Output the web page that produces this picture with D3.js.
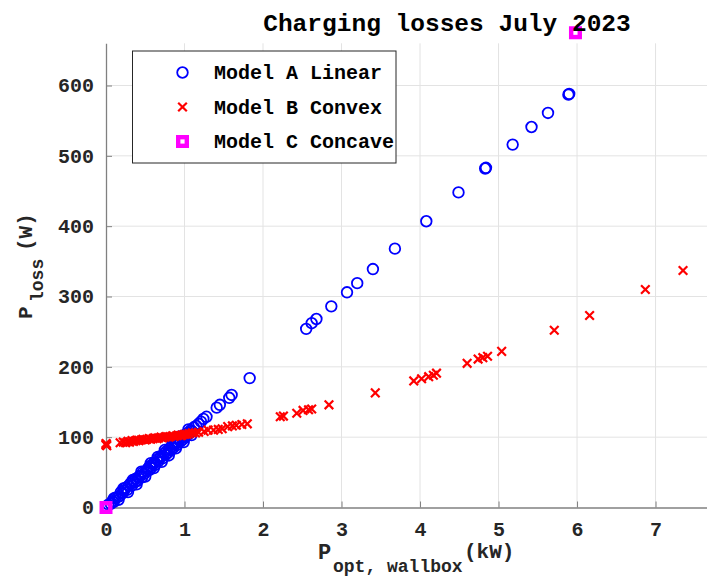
<!DOCTYPE html>
<html><head><meta charset="utf-8">
<script src="https://cdn.jsdelivr.net/npm/d3@7"></script>
<style>body{margin:0;background:#fff}svg{display:block}</style>
</head><body><svg id="c" width="707" height="579"></svg>
<script>
const title = "Charging losses July 2023";
const seriesNames = ["Model A Linear", "Model B Convex", "Model C Concave"];
const xTicks = [0,1,2,3,4,5,6,7];
const yTicks = [0,100,200,300,400,500,600];

const modelA_P = [0.03,0.06,0.08,0.10,0.12,0.15,0.17,0.19,0.21,0.23,0.25,0.27,0.29,0.31,0.33,0.35,0.37,0.38,0.40,0.42,0.44,0.46,0.47,0.49,0.51,0.53,0.55,0.56,0.58,0.60,0.62,0.63,0.65,0.67,0.69,0.70,0.72,0.74,0.76,0.77,0.79,0.81,0.83,0.84,0.86,0.88,0.90,0.91,0.93,0.95,0.97,0.98,1.00,1.02,1.04,1.06,1.08,1.10,1.12,1.15,1.18,1.21,1.24,1.28,1.41,1.45,1.57,1.60,1.83,2.55,2.62,2.68,2.87,3.07,3.20,3.40,3.68,4.08,4.49,4.83,4.84,5.18,5.42,5.63,5.89,5.90,
  0.10,0.16,0.22,0.28,0.34,0.39,0.45,0.50,0.57,0.61,0.66,0.71,0.75,0.80,0.85,0.89,0.94,0.99,1.05,1.09];
const modelA_loss = [4,5,9,8,14,15,16,22,20,24,28,25,31,34,31,37,36,41,38,44,45,43,50,48,52,55,53,59,57,62,64,61,68,66,71,73,70,77,75,80,78,84,82,87,85,90,92,89,96,94,99,97,103,101,106,105,110,108,114,116,119,122,126,129,142,146,156,160,184,254,262,268,286,306,319,339,368,407,448,482,483,516,541,561,587,588,
  13,11,27,22,39,33,51,44,63,56,72,65,82,74,92,84,101,93,111,103];

const modelB_P = [0,0.005,0,0.01,0.18,0.22,0.25,0.28,0.30,0.33,0.35,0.38,0.40,0.42,0.45,0.47,0.50,0.52,0.55,0.57,0.60,0.62,0.65,0.67,0.70,0.72,0.75,0.77,0.80,0.82,0.85,0.87,0.90,0.92,0.95,0.97,1.00,1.03,1.06,1.10,1.14,1.18,1.25,1.30,1.37,1.43,1.48,1.55,1.61,1.66,1.73,1.80,2.22,2.26,2.43,2.51,2.58,2.62,2.84,3.43,3.92,4.02,4.11,4.17,4.21,4.60,4.74,4.80,4.86,5.04,5.71,6.16,6.87,7.35];
const modelB_loss = [89,90,91,88,92,93,92,94,93,95,94,95,96,95,96,97,96,97,98,97,98,99,98,99,100,99,100,101,100,101,102,101,102,103,102,103,104,104,105,106,106,107,108,110,110,111,112,115,116,117,118,119,129,130,134,138,139,140,146,163,180,183,186,188,191,205,211,213,215,222,252,273,310,337];

const modelC_P = [0, 5.98];
const modelC_loss = [0, 675];

const svg = d3.select("#c");
const FONT = "'Liberation Mono','DejaVu Sans Mono',monospace";
const x = d3.scaleLinear().domain([0, 7.7]).range([106, 710.5]);
const y = d3.scaleLinear().domain([0, 660]).range([507.5, 43.3]);

// grid
const g = svg.append("g");
g.selectAll(".gx").data(xTicks.filter(d=>d>0)).join("line")
 .attr("x1",d=>x(d)).attr("x2",d=>x(d)).attr("y1",y(0)).attr("y2",y(660))
 .attr("stroke","#e3e3e3").attr("stroke-width",1);
g.selectAll(".gy").data(yTicks.filter(d=>d>0)).join("line")
 .attr("y1",d=>y(d)).attr("y2",d=>y(d)).attr("x1",x(0)).attr("x2",707)
 .attr("stroke","#e3e3e3").attr("stroke-width",1);

// axes
const xAxis = d3.axisBottom(x).tickValues(xTicks).tickSizeInner(-6).tickSizeOuter(0).tickPadding(14).tickFormat(d3.format("d"));
const yAxis = d3.axisLeft(y).tickValues(yTicks).tickSizeInner(-6).tickSizeOuter(0).tickPadding(12).tickFormat(d3.format("d"));
const ax = svg.append("g").attr("transform",`translate(0,${y(0)})`).call(xAxis);
const ay = svg.append("g").attr("transform",`translate(${x(0)},0)`).call(yAxis);
[ax,ay].forEach(a=>{
  a.select(".domain").attr("stroke","#808080").attr("stroke-width",1.3);
  a.selectAll(".tick line").attr("stroke","#808080").attr("stroke-width",1);
  a.selectAll(".tick text").attr("fill","#262626").style("font-family",FONT).style("font-weight","bold").style("font-size","20px");
});
ax.selectAll(".tick text").attr("dy","0.71em");

// marks
const plot = svg.append("g");
const A = modelA_P.map((p,i)=>({p, v:modelA_loss[i]}));
const B = modelB_P.map((p,i)=>({p, v:modelB_loss[i]}));
const C = modelC_P.map((p,i)=>({p, v:modelC_loss[i]}));
plot.selectAll(".a").data(A).join("circle")
 .attr("cx",d=>x(d.p)).attr("cy",d=>y(d.v)).attr("r",5.3)
 .attr("fill","none").attr("stroke","#0000ff").attr("stroke-width",1.8);
const xs = 4.3;
plot.selectAll(".b").data(B).join("path")
 .attr("d",d=>{const cx=x(d.p), cy=y(d.v); return `M${cx-xs},${cy-xs}L${cx+xs},${cy+xs}M${cx-xs},${cy+xs}L${cx+xs},${cy-xs}`;})
 .attr("stroke","#ff0000").attr("stroke-width",2.2).attr("fill","none");
plot.selectAll(".c").data(C).join("rect")
 .attr("x",d=>x(d.p)-4.3).attr("y",d=>y(d.v)-4.3).attr("width",8.6).attr("height",8.6)
 .attr("fill","none").attr("stroke","#ff00ff").attr("stroke-width",4.4);

// legend
const lg = svg.append("g");
lg.append("rect").attr("x",132.5).attr("y",51).attr("width",263.5).attr("height",112)
 .attr("fill","#fff").attr("stroke","#262626").attr("stroke-width",1);
const ly = [72.5, 107, 141.5];
lg.append("circle").attr("cx",182.5).attr("cy",ly[0]).attr("r",5.3).attr("fill","none").attr("stroke","#0000ff").attr("stroke-width",1.8);
lg.append("path").attr("d",`M${182.5-xs},${ly[1]-xs}L${182.5+xs},${ly[1]+xs}M${182.5-xs},${ly[1]+xs}L${182.5+xs},${ly[1]-xs}`).attr("stroke","#ff0000").attr("stroke-width",2.2);
lg.append("rect").attr("x",182.5-4.3).attr("y",ly[2]-4.3).attr("width",8.6).attr("height",8.6).attr("fill","none").attr("stroke","#ff00ff").attr("stroke-width",4.4);
lg.selectAll(".lt").data(seriesNames).join("text")
 .attr("x",214).attr("y",(d,i)=>ly[i]).attr("dy","0.33em")
 .style("font-family",FONT).style("font-weight","bold").style("font-size","20px").attr("fill","#000")
 .text(d=>d);

// title
svg.append("text").attr("x",447).attr("y",31).attr("text-anchor","middle")
 .style("font-family",FONT).style("font-weight","bold").style("font-size","24.5px").attr("fill","#000")
 .text(title);

// x label (single text element with tspans)
const xl = svg.append("text").style("font-family",FONT).style("font-weight","bold").attr("fill","#262626");
xl.append("tspan").attr("x",318).attr("y",559).style("font-size","22px").text("P");
xl.append("tspan").attr("x",333).attr("y",572).style("font-size","18px").text("opt, wallbox");
xl.append("tspan").attr("x",464).attr("y",558).style("font-size","21px").text("(kW)");

// y label
const yl = svg.append("text").attr("transform","translate(32,0) rotate(-90)").style("font-family",FONT).style("font-weight","bold").attr("fill","#262626");
yl.append("tspan").attr("x",-319).attr("y",0).style("font-size","21px").text("P");
yl.append("tspan").attr("x",-302).attr("y",11).style("font-size","18px").text("loss");
yl.append("tspan").attr("x",-251).attr("y",0).style("font-size","21px").text("(W)");
</script></body></html>
